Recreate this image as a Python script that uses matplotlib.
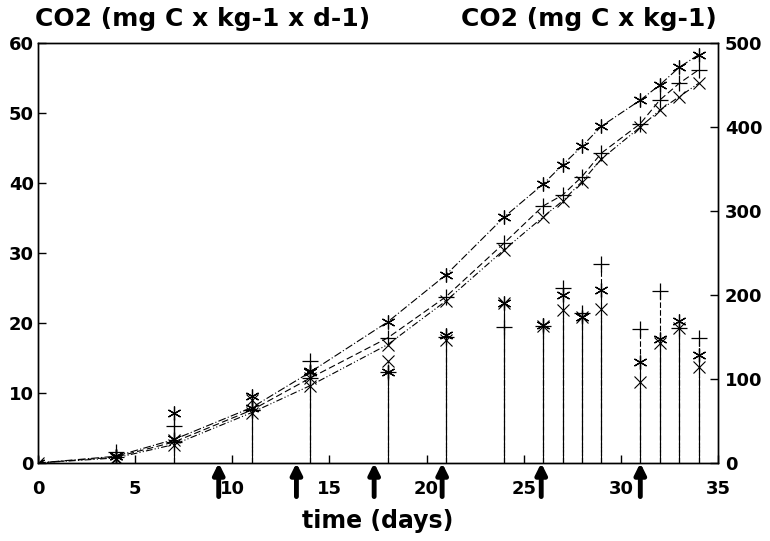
import matplotlib
matplotlib.use("Agg")
import matplotlib.pyplot as plt

# ---- data ----
cum_days = [0, 4, 7, 11, 14, 18, 21, 24, 26, 27, 28, 29, 31, 32, 33, 34]
cum_star = [0, 8, 28, 66, 108, 168, 224, 293, 332, 355, 377, 401, 432, 450, 471, 486]
cum_plus = [0, 7, 25, 63, 101, 149, 198, 262, 306, 319, 341, 369, 404, 432, 452, 468]
cum_x    = [0, 6, 22, 60, 92, 141, 193, 254, 293, 312, 335, 362, 400, 420, 436, 452]

rate_days = [4, 7, 11, 14, 18, 21, 24, 26, 27, 28, 29, 31, 32, 33, 34]
rate_star = [1.0, 7.1, 9.5, 13.1, 13.0, 18.3, 22.9, 19.7, 24.0, 20.9, 24.7, 14.4, 17.7, 20.3, 15.4]
rate_plus = [1.5, 5.3, 7.6, 14.6, 13.0, 18.0, 19.4, 19.6, 25.0, 21.4, 28.4, 19.1, 24.6, 19.3, 17.9]
rate_x    = [0.5, 3.3, 9.0, 12.1, 14.6, 17.6, 22.9, 19.5, 21.9, 20.9, 22.0, 11.6, 17.1, 19.3, 13.7]

arrow_days = [9.3, 13.3, 17.3, 20.8, 25.9, 31.0]

left_ticks = [0, 10, 20, 30, 40, 50, 60]
right_ticks = [0, 100, 200, 300, 400, 500]
x_ticks = [0, 5, 10, 15, 20, 25, 30, 35]

left_title = "CO2 (mg C x kg-1 x d-1)"
right_title = "CO2 (mg C x kg-1)"
x_label = "time (days)"

# ---- figure ----
plt.rcParams['font.family'] = ['DejaVu Sans']
fig = plt.figure(figsize=(7.7, 5.41), dpi=100)
ax = fig.add_axes([0.0494, 0.1442, 0.8831, 0.7763])
ax2 = ax.twinx()

star = (6, 2, 0)
lw = 0.8

# daily rate sticks
ax.vlines(rate_days, 0, rate_star, colors='black', linestyles='solid', lw=lw)
ax.vlines(rate_days, 0, rate_plus, colors='black', linestyles=(0, (5, 2)), lw=lw)
ax.vlines(rate_days, 0, rate_x, colors='black', linestyles=(0, (5, 2, 1, 2)), lw=lw)
ax.plot(rate_days, rate_star, ls='none', marker=star, ms=10, mec='black', mew=0.9)
ax.plot(rate_days, rate_plus, ls='none', marker='+', ms=12, mec='black', mew=0.9)
ax.plot(rate_days, rate_x, ls='none', marker='x', ms=8, mec='black', mew=0.8)

# cumulative curves
ax2.plot(cum_days, cum_star, color='black', lw=lw, ls=(0, (7, 2, 1, 2)),
         marker=star, ms=10, mew=0.9)
ax2.plot(cum_days, cum_plus, color='black', lw=lw, ls=(0, (6, 3)),
         marker='+', ms=12, mew=0.9)
ax2.plot(cum_days, cum_x, color='black', lw=lw, ls=(0, (6, 2, 1, 2, 1, 2)),
         marker='x', ms=8, mew=0.8)

ax.set_xlim(0, 35)
ax.set_ylim(0, 60)
ax2.set_ylim(0, 500)
ax.set_xticks(x_ticks)
ax.set_yticks(left_ticks)
ax2.set_yticks(right_ticks)

tfont = dict(fontsize=13, fontweight='bold')
ax.set_xticklabels([str(t) for t in x_ticks], **tfont)
ax.set_yticklabels([str(t) for t in left_ticks], **tfont)
ax2.set_yticklabels([str(t) for t in right_ticks], **tfont)

ax.tick_params(axis='both', direction='in', length=6, width=1.0, pad=3)
ax.tick_params(axis='x', pad=12)
ax2.tick_params(axis='y', direction='in', length=6, width=1.0, pad=5)

for a in (ax, ax2):
    for s in a.spines.values():
        s.set_linewidth(1.0)

# arrows below the axis
for d in arrow_days:
    ax.annotate('', xy=(d, 0), xytext=(d, -4.8),
                arrowprops=dict(arrowstyle='-|>', lw=3.5, color='black',
                                mutation_scale=16, shrinkA=0, shrinkB=0),
                annotation_clip=False)

fig.text(0.045, 0.965, left_title, fontsize=18, fontweight='bold', ha='left', va='center')
fig.text(0.931, 0.965, right_title, fontsize=18, fontweight='bold', ha='right', va='center')
ax.set_xlabel(x_label, fontsize=17, fontweight='bold', labelpad=8)

fig.savefig("out.png", dpi=100)
